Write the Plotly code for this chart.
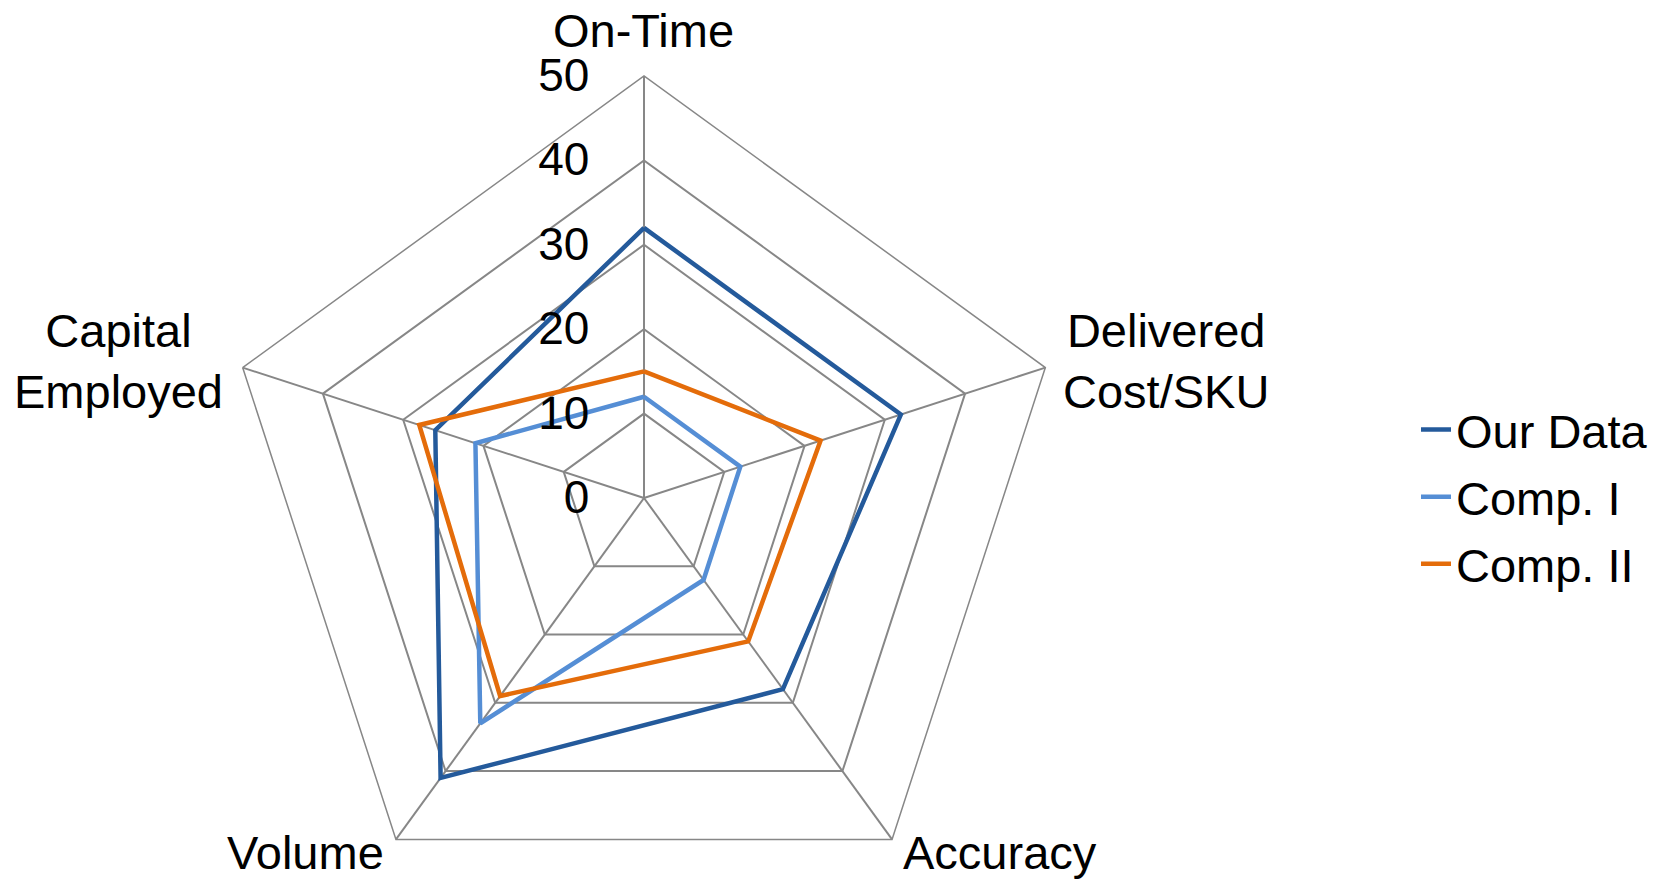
import plotly.graph_objects as go

# Supply-chain scorecard: five measures, three data sets
categories = ["On-Time", "Delivered<br>Cost/SKU", "Accuracy", "Volume", "Capital<br>Employed"]
our_data = [32, 32, 28, 41, 26]
comp_1 = [12, 12, 12, 33, 21]
comp_2 = [15, 22, 21, 29, 28]
radial_ticks = [0, 10, 20, 30, 40, 50]

series = [
    ("Our Data", our_data, "#245A9B"),
    ("Comp. I", comp_1, "#558ED5"),
    ("Comp. II", comp_2, "#E46C0A"),
]

W, H = 1658, 920
FONT = "Liberation Sans, Arial, sans-serif"
GRID = "#878787"

# pixel anchor (centre) for each category label around the web
label_px = [(643, 31), (1166, 361), (1000, 852), (305, 852), (118, 361)]

fig = go.Figure()
for name, vals, color in series:
    fig.add_trace(go.Scatterpolar(
        r=vals + vals[:1],
        theta=categories + categories[:1],
        mode="lines",
        name=name,
        legendgroup=name,
        line=dict(color=color, width=4.5),
    ))

for text, (px, py) in zip(categories, label_px):
    fig.add_annotation(
        text=text, xref="paper", yref="paper",
        x=px / W, y=1 - py / H, xanchor="center", yanchor="middle",
        showarrow=False, align="center",
        font=dict(size=47, family=FONT, color="black"),
    )

cx, cy, R = 644, 498, 422
fig.update_layout(
    width=W, height=H,
    margin=dict(l=0, r=0, t=0, b=0),
    paper_bgcolor="white",
    plot_bgcolor="white",
    font=dict(family=FONT, size=47, color="black"),
    polar=dict(
        domain=dict(x=[(cx - R) / W, (cx + R) / W], y=[(H - cy - R) / H, (H - cy + R) / H]),
        gridshape="linear",
        bgcolor="white",
        angularaxis=dict(
            direction="clockwise", rotation=90,
            showline=True, linecolor=GRID, linewidth=1.5,
            showgrid=True, gridcolor=GRID, gridwidth=1.5,
            ticks="", showticklabels=False,
        ),
        radialaxis=dict(
            range=[0, 50], tickvals=radial_ticks,
            angle=90, side="counterclockwise", tickangle=90,
            showline=False, showgrid=True, gridcolor=GRID, gridwidth=1.5,
            ticks="outside", ticklen=38, tickcolor="rgba(0,0,0,0)",
            tickfont=dict(size=46, family=FONT),
        ),
    ),
    legend=dict(
        x=1416 / W, xanchor="left",
        y=1 - 497 / H, yanchor="middle",
        font=dict(size=47, family=FONT),
        tracegroupgap=3,
        bgcolor="rgba(0,0,0,0)",
    ),
)

fig.write_html("out.html")
